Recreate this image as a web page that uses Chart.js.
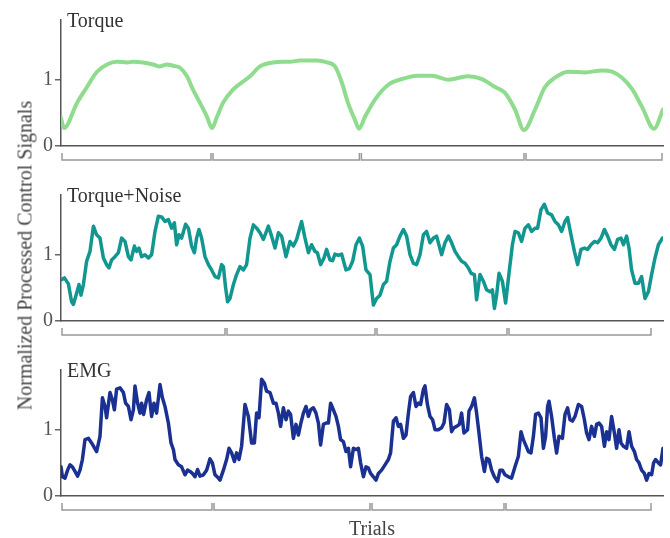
<!DOCTYPE html>
<html>
<head>
<meta charset="utf-8">
<script src="https://cdn.jsdelivr.net/npm/chart.js@4"></script>
<style>
  body { margin: 0; background: #fff; }
  #wrap { position: relative; width: 670px; height: 538px; overflow: hidden; font-family: "Liberation Serif", serif; }
  .panel { position: absolute; left: 0; width: 670px; height: 175px; }
  #ylabel { position: absolute; left: -175px; top: 244px; width: 400px; height: 23px; line-height: 23px;
            text-align: center; font-size: 20px; color: #444; transform: rotate(-90deg); white-space: nowrap; }
  #xlabel { position: absolute; left: 322px; top: 517px; width: 100px; line-height: 23px;
            text-align: center; font-size: 20px; color: #444; }
</style>
</head>
<body>
<div id="wrap">
  <div class="panel" style="top:0"><canvas id="torqueChart" width="670" height="175"></canvas></div>
  <div class="panel" style="top:175px"><canvas id="noiseChart" width="670" height="175"></canvas></div>
  <div class="panel" style="top:350px"><canvas id="emgChart" width="670" height="175"></canvas></div>
  <div id="ylabel">Normalized Processed Control Signals</div>
  <div id="xlabel">Trials</div>
</div>
<script>
// y ticks shared by all panels
const yTicks = [0, 1];

// Torque (smooth)
const torqueX = [0, 1.5, 8, 13, 18, 23, 28, 33, 36, 41, 46, 49.5, 53, 56, 59.5, 63, 66, 69.5, 73, 75.5,
  78, 81, 86, 91, 94.5, 99.5, 106, 111, 114.5, 119.5, 128, 133, 137, 140.5, 143.5, 147, 149, 152, 157, 163.5,
  170.5, 178.5, 185.5, 193.5, 203.5, 210.5, 217, 222, 227, 231.5, 237, 242, 247, 253.5, 262, 270.5, 275.5, 280.5, 285.5, 290.5,
  296.5, 301];
const torqueY = [0.42, 0.27, 0.65, 0.89, 1.12, 1.23, 1.27, 1.26, 1.27, 1.26, 1.23, 1.20, 1.23, 1.21, 1.18, 1.05, 0.85, 0.65, 0.44, 0.27,
  0.44, 0.65, 0.85, 0.97, 1.05, 1.20, 1.26, 1.27, 1.27, 1.29, 1.29, 1.26, 1.20, 0.95, 0.65, 0.39, 0.26, 0.44, 0.70, 0.92,
  1.01, 1.06, 1.06, 1.00, 1.05, 1.01, 0.89, 0.80, 0.55, 0.24, 0.55, 0.89, 1.03, 1.12, 1.11, 1.14, 1.12, 1.03, 0.86, 0.59,
  0.26, 0.55];
const torqueBrackets = [0, 75.5, 149.7, 232, 301];

// Torque + Noise
const noiseX = [0, 1.7, 3.7, 5.3, 6.2, 7.8, 9, 10, 11.2, 12.8, 14.5, 16.2, 17.8, 19.5, 21.2, 22.8, 24, 25.3, 27, 28.7,
  30.3, 32, 33.7, 35, 36.7, 37.8, 39, 40.3, 42, 43.7, 45.3, 47, 48.7, 50.3, 52, 53.7, 55.3, 56.7, 57.8, 59,
  60.3, 62.3, 63.7, 65.3, 66.7, 67.8, 69, 70.3, 72, 73.7, 75.3, 77, 78.7, 80.3, 81.2, 82.3, 83.3, 84.5, 86.2, 87.8,
  89.5, 91.2, 92.8, 94.5, 96.2, 97.8, 99.5, 101.2, 103.7, 105.3, 107, 108.7, 110.3, 112.5, 114.5, 116.2, 117.8, 120.3, 122, 123.7,
  125.3, 127, 128.2, 129.8, 131.5, 132.8, 134.5, 135.8, 137, 138.7, 140.3, 142.5, 144.2, 145.8, 147.5, 149.2, 150.8, 152.5, 154.5, 156.2,
  157.8, 159.5, 161.2, 162.8, 164.5, 166.2, 167.8, 169.5, 171.2, 172.8, 174.5, 176.2, 177.8, 179.5, 181.2, 182.8, 184.5, 186.2, 187.8, 190.3,
  192, 193.7, 195.3, 197, 198.7, 200.3, 202, 203.7, 205, 206.7, 207.8, 209.5, 211.2, 212.8, 214.5, 215.7, 216.7, 217.8, 219, 220.7,
  222.3, 224, 225.7, 227, 228.7, 230.3, 232, 233.7, 235.3, 237, 238.3, 240, 241.7, 243.3, 245.3, 247, 248.7, 250.3, 252, 253.3,
  255, 256.7, 258.3, 260, 261.7, 263.3, 265, 266.7, 268.3, 270, 271.7, 273.3, 275, 276.7, 278.3, 280, 281.2, 282.8, 284, 285.3,
  287, 288.7, 290.3, 292, 293.7, 295.3, 297, 298.7, 300.7];
const noiseY = [0.62, 0.65, 0.56, 0.29, 0.25, 0.42, 0.55, 0.39, 0.55, 0.90, 1.05, 1.43, 1.30, 1.25, 0.95, 0.85, 0.80, 0.92, 0.97, 1.03,
  1.25, 1.20, 0.97, 0.92, 1.13, 1.05, 1.10, 0.97, 1.00, 0.95, 1.00, 1.35, 1.58, 1.57, 1.50, 1.53, 1.40, 1.48, 1.15, 1.30,
  1.25, 1.46, 1.40, 1.13, 1.03, 1.25, 1.38, 1.25, 0.97, 0.85, 0.77, 0.67, 0.65, 0.85, 0.82, 0.50, 0.29, 0.34, 0.55, 0.70,
  0.82, 0.77, 0.85, 1.25, 1.45, 1.40, 1.33, 1.23, 1.43, 1.28, 1.10, 1.33, 1.28, 0.97, 1.20, 1.13, 1.23, 1.50, 1.25, 1.03,
  1.15, 1.05, 1.03, 0.85, 0.95, 1.08, 0.92, 0.91, 1.01, 0.99, 1.01, 0.77, 0.79, 0.90, 1.15, 1.25, 1.13, 0.77, 0.70, 0.24,
  0.34, 0.39, 0.55, 0.60, 0.90, 1.10, 1.15, 1.28, 1.38, 1.28, 1.00, 0.87, 0.85, 1.00, 1.30, 1.35, 1.18, 1.25, 1.28, 1.00,
  1.18, 1.28, 1.18, 1.05, 0.97, 0.90, 0.87, 0.80, 0.72, 0.70, 0.32, 0.70, 0.60, 0.47, 0.44, 0.47, 0.19, 0.39, 0.72, 0.60,
  0.27, 0.72, 1.15, 1.35, 1.33, 1.20, 1.40, 1.45, 1.35, 1.40, 1.40, 1.68, 1.76, 1.63, 1.60, 1.50, 1.45, 1.35, 1.50, 1.56,
  1.30, 1.05, 0.85, 1.08, 1.10, 1.08, 1.15, 1.20, 1.18, 1.25, 1.38, 1.28, 1.15, 1.08, 1.23, 1.25, 1.15, 1.28, 1.10, 0.77,
  0.57, 0.57, 0.67, 0.34, 0.44, 0.70, 0.95, 1.15, 1.25];
const noiseBrackets = [0, 82.5, 157.5, 223.5, 295.5];

// EMG
const emgX = [0, 0.7, 2, 3.3, 4.5, 5.7, 7, 8.3, 9.5, 10.7, 12, 13.7, 15.3, 17.8, 19.5, 20.7, 22, 22.8, 24.5, 25.7,
  26.7, 27.8, 29.5, 31.2, 32.3, 33.7, 35, 36.2, 37, 38.3, 39.5, 40.3, 41.3, 42.8, 44, 45.3, 46.5, 47.8, 49.5, 50.7,
  52, 53.7, 55, 56.2, 57, 58.7, 60.3, 62, 63.3, 64.5, 65.7, 67, 68.3, 69.5, 71.2, 72.8, 74.5, 75.7, 77, 78.7,
  79.5, 81.2, 82.8, 84, 85.3, 86.7, 87.8, 89, 90.3, 92, 93.7, 95.3, 96.7, 97.8, 99, 100.3, 101.7, 102.8, 104.5, 106.2,
  107.5, 108.7, 109.8, 111.2, 112.5, 113.7, 114.8, 116.2, 117.5, 118.7, 119.8, 121.2, 122.5, 123.7, 124.8, 126.2, 127.5, 128.7, 129.8, 131.2,
  132.5, 133.7, 134.8, 136.2, 137.5, 138.7, 139.8, 141.2, 142.5, 143.7, 144.8, 146.2, 147.5, 148.7, 149.8, 151.2, 152.5, 153.7, 154.8, 156.2,
  157.5, 158.7, 160.3, 162, 163.7, 164.8, 166.2, 167.5, 168.7, 169.8, 171.2, 172.5, 173.7, 174.8, 176.2, 177.5, 178.7, 179.8, 181.2, 182,
  183.2, 184.5, 185.8, 187, 188.7, 190.3, 191.5, 192.8, 194.2, 195.3, 196.5, 197.8, 199.2, 200.3, 201.5, 203.3, 204, 205.3, 206.7, 207.8,
  209, 210.3, 211.7, 212.8, 214, 215.3, 216.7, 218.3, 219.5, 220.7, 222, 223.7, 225.3, 227, 228.7, 230, 231.2, 232.3, 233.7, 235,
  236.2, 237.3, 238.7, 240, 241.2, 242.3, 243.3, 244, 245.3, 246.7, 247.8, 249, 250.7, 252, 253.3, 254.5, 255.7, 257, 258.7, 260.3,
  261.7, 262.8, 264, 265.3, 266.7, 267.8, 269, 270.3, 271.7, 272.8, 274, 275.3, 276.7, 277.8, 279, 280, 281.2, 282.8, 284, 285.3,
  286.7, 287.8, 289, 290.3, 291.7, 292.8, 294, 295.3, 296.3, 297.3, 298.7, 299.8, 301];
const emgY = [0.44, 0.29, 0.27, 0.39, 0.47, 0.44, 0.37, 0.30, 0.39, 0.55, 0.85, 0.87, 0.80, 0.67, 0.90, 1.48, 1.35, 1.18, 1.56, 1.45,
  1.30, 1.61, 1.63, 1.56, 1.40, 1.35, 1.15, 1.30, 1.66, 1.40, 1.25, 1.40, 1.23, 1.45, 1.56, 1.20, 1.40, 1.25, 1.68, 1.48,
  1.35, 1.10, 0.80, 0.70, 0.55, 0.47, 0.44, 0.32, 0.39, 0.37, 0.34, 0.29, 0.40, 0.30, 0.32, 0.39, 0.56, 0.50, 0.32, 0.27,
  0.24, 0.39, 0.55, 0.72, 0.65, 0.52, 0.65, 0.55, 0.75, 1.38, 1.20, 0.80, 0.80, 1.25, 1.18, 1.76, 1.70, 1.58, 1.56, 1.40,
  1.40, 1.25, 1.05, 1.33, 1.15, 1.28, 1.23, 0.87, 1.08, 0.92, 1.08, 1.25, 1.35, 1.20, 1.30, 1.33, 1.25, 1.10, 0.77, 1.08,
  1.10, 1.10, 1.40, 1.30, 1.20, 1.05, 0.85, 0.82, 0.67, 0.72, 0.44, 0.72, 0.70, 0.72, 0.50, 0.29, 0.44, 0.42, 0.34, 0.29,
  0.24, 0.34, 0.39, 0.47, 0.55, 0.65, 1.13, 1.18, 1.05, 1.08, 0.87, 0.92, 1.25, 1.50, 1.56, 1.35, 1.40, 1.38, 1.61, 1.66,
  1.38, 1.20, 1.15, 1.00, 1.00, 1.03, 1.10, 1.38, 1.30, 0.97, 1.03, 1.05, 1.08, 1.25, 0.95, 1.00, 1.28, 1.35, 1.48, 1.25,
  0.95, 0.60, 0.37, 0.57, 0.55, 0.39, 0.29, 0.22, 0.39, 0.39, 0.32, 0.29, 0.27, 0.44, 0.60, 0.97, 0.85, 0.77, 0.67, 0.65,
  0.90, 1.23, 1.25, 1.18, 0.72, 0.90, 1.35, 1.43, 1.20, 0.87, 0.65, 0.90, 0.87, 1.23, 1.33, 1.15, 1.13, 1.20, 1.38, 1.35,
  1.15, 0.95, 0.85, 1.05, 0.90, 1.08, 1.10, 1.05, 0.75, 0.97, 0.85, 1.20, 0.95, 0.72, 1.00, 0.80, 0.75, 0.72, 0.97, 0.75,
  0.67, 0.55, 0.50, 0.39, 0.34, 0.24, 0.34, 0.32, 0.50, 0.55, 0.50, 0.47, 0.72];
const emgBrackets = [0, 76, 155, 222, 295.5];

const FONT = 'Liberation Serif';

// draws the panel title and the range brackets under the x axis
const panelDecor = {
    id: 'panelDecor',
    afterDraw(chart, args, opts) {
        const { ctx, chartArea } = chart;
        const xScale = chart.scales.x;
        ctx.save();
        ctx.fillStyle = '#333';
        ctx.font = '20px "' + FONT + '"';
        ctx.textAlign = 'left';
        ctx.textBaseline = 'alphabetic';
        ctx.fillText(opts.title, chartArea.left + 6, chartArea.top + 7);

        ctx.strokeStyle = '#999';
        ctx.lineWidth = 1.5;
        const top = chartArea.bottom + 7;
        const bottom = chartArea.bottom + 14;
        const b = opts.brackets;
        for (let i = 0; i < b.length - 1; i++) {
            const x0 = xScale.getPixelForValue(b[i]) + 1;
            const x1 = xScale.getPixelForValue(b[i + 1]) - 1;
            ctx.beginPath();
            ctx.moveTo(x0, top);
            ctx.lineTo(x0, bottom);
            ctx.lineTo(x1, bottom);
            ctx.lineTo(x1, top);
            ctx.stroke();
        }
        ctx.restore();
    }
};

function makePanel(canvasId, title, xs, ys, brackets, color, width, smooth) {
    const ctx = document.getElementById(canvasId);
    return new Chart(ctx, {
        type: 'line',
        data: {
            datasets: [{
                data: xs.map((x, i) => ({ x: x, y: ys[i] })),
                borderColor: color,
                borderWidth: width,
                pointRadius: 0,
                tension: 0,
                cubicInterpolationMode: smooth ? 'monotone' : 'default',
                borderJoinStyle: 'round',
                borderCapStyle: 'round',
                fill: false
            }]
        },
        options: {
            responsive: false,
            animation: false,
            devicePixelRatio: 1,
            layout: { padding: { left: 0, right: 7, top: 20, bottom: 0 } },
            plugins: {
                legend: { display: false },
                tooltip: { enabled: false },
                panelDecor: { title: title, brackets: brackets }
            },
            scales: {
                x: {
                    type: 'linear',
                    min: 0,
                    max: 301,
                    ticks: { display: false },
                    grid: { display: false },
                    border: { display: true, color: '#555', width: 1.5 },
                    afterFit: s => { s.height = 29; }
                },
                y: {
                    min: 0,
                    max: 1.9,
                    afterBuildTicks: s => { s.ticks = yTicks.map(v => ({ value: v })); },
                    afterFit: s => { s.width = 61; },
                    ticks: { color: '#555', padding: 2, font: { family: FONT, size: 20 } },
                    grid: { display: true, drawOnChartArea: false, drawTicks: true, tickLength: 6, color: '#666', lineWidth: 1.5 },
                    border: { display: true, color: '#555', width: 1.5 }
                }
            }
        },
        plugins: [panelDecor]
    });
}

makePanel('torqueChart', 'Torque', torqueX, torqueY, torqueBrackets, '#8fdc8f', 4, true);
makePanel('noiseChart', 'Torque+Noise', noiseX, noiseY, noiseBrackets, '#11978f', 3.5, false);
makePanel('emgChart', 'EMG', emgX, emgY, emgBrackets, '#1b3192', 3.5, false);
</script>
</body>
</html>
